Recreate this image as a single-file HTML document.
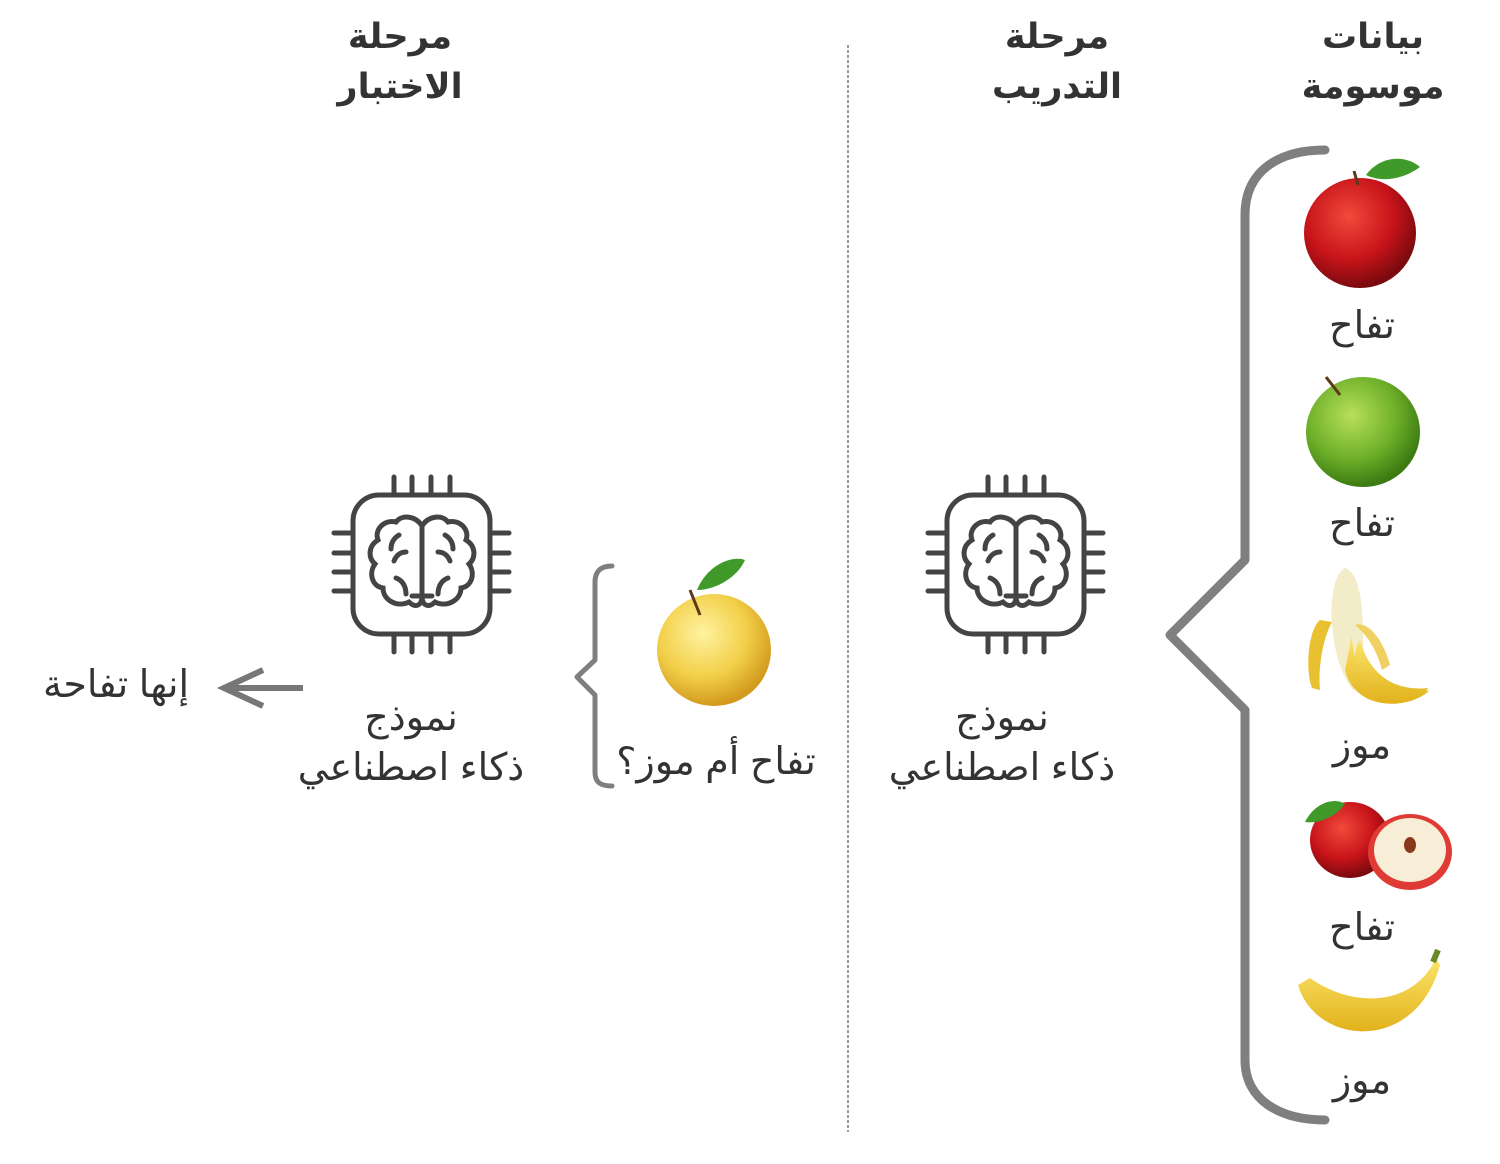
<!DOCTYPE html>
<html><head><meta charset="utf-8"><style>
html,body{margin:0;padding:0;background:#fff}
svg{display:block}
text{font-family:"Liberation Sans","Noto Sans CJK SC","DejaVu Sans",sans-serif;fill:#333;text-anchor:middle}
.h{font-size:35px;font-weight:bold}
.l{font-size:38px}
</style></head><body>
<svg width="1500" height="1164" viewBox="0 0 1500 1164">
<defs>
<radialGradient id="red" cx="40%" cy="35%" r="65%"><stop offset="0" stop-color="#f04a3a"/><stop offset=".6" stop-color="#c8141a"/><stop offset="1" stop-color="#7a0a0e"/></radialGradient>
<radialGradient id="grn" cx="40%" cy="35%" r="65%"><stop offset="0" stop-color="#b8e05a"/><stop offset=".6" stop-color="#6fb02a"/><stop offset="1" stop-color="#3c7a12"/></radialGradient>
<radialGradient id="yel" cx="40%" cy="35%" r="65%"><stop offset="0" stop-color="#fff2a0"/><stop offset=".6" stop-color="#f2cf48"/><stop offset="1" stop-color="#d39a1e"/></radialGradient>
<linearGradient id="ban" x1="0" y1="0" x2="0" y2="1"><stop offset="0" stop-color="#fbe46a"/><stop offset="1" stop-color="#e2b21c"/></linearGradient>
<g id="chip" fill="none" stroke="#444" stroke-width="5" stroke-linecap="round">
<rect x="947" y="495" width="137" height="139" rx="26"/>
<path d="M988 477v18M1006 477v18M1025 477v18M1044 477v18M988 634v18M1006 634v18M1025 634v18M1044 634v18M928 533h19M928 553h19M928 572h19M928 591h19M1084 533h19M1084 553h19M1084 572h19M1084 591h19"/>
<path d="M1016 526c-6-10-20-12-26-4c-12-3-22 8-18 18c-10 6-10 18-3 24c-6 8-4 22 8 24c0 12 14 20 26 14c6 6 12 4 13-4zM1016 526c6-10 20-12 26-4c12-3 22 8 18 18c10 6 10 18 3 24c6 8 4 22-8 24c0 12-14 20-26 14c-6 6-12 4-13-4zM1016 526v74M1006 596h20M993 535c-5 3-8 8-8 14M1000 552c-6 0-10 4-12 9M990 578c6 2 10 8 10 16M1039 535c5 3 8 8 8 14M1032 552c6 0 10 4 12 9M1042 578c-6 2-10 8-10 16"/>
</g>
</defs>
<line x1="848" y1="45" x2="848" y2="1132" stroke="#333" stroke-width="1" stroke-dasharray="3,2"/>
<text class="h" x="400" y="48">مرحلة</text><text class="h" x="400" y="98">الاختبار</text>
<text class="h" x="1057" y="48">مرحلة</text><text class="h" x="1057" y="98">التدريب</text>
<text class="h" x="1373" y="48">بيانات</text><text class="h" x="1373" y="98">موسومة</text>
<path d="M1325 150C1280 150 1245 170 1245 215V560L1170 635L1245 710V1060C1245 1100 1280 1120 1325 1120" fill="none" stroke="#7f7f7f" stroke-width="9" stroke-linecap="round" stroke-linejoin="round"/>
<path d="M612 566C600 566 595 572 595 582V660L577 677L595 695V772C595 782 600 786 612 786" fill="none" stroke="#7f7f7f" stroke-width="5" stroke-linecap="round" stroke-linejoin="round"/>
<use href="#chip"/>
<use href="#chip" transform="translate(-594,0)"/>
<text class="l" x="1002" y="730">نموذج</text><text class="l" x="1002" y="780">ذكاء اصطناعي</text>
<text class="l" x="411" y="730">نموذج</text><text class="l" x="411" y="780">ذكاء اصطناعي</text>
<text class="l" x="716" y="774">تفاح أم موز؟</text>
<text class="l" x="116" y="697">إنها تفاحة</text>
<path d="M303 688H226M263 670L224 688L263 706" fill="none" stroke="#777" stroke-width="6" stroke-linejoin="miter"/>
<!-- red apple -->
<ellipse cx="1360" cy="233" rx="56" ry="55" fill="url(#red)"/>
<path d="M1358 185l-4-14" stroke="#5a3a1a" stroke-width="3"/>
<path d="M1366 175c15-20 40-20 54-8c-16 12-38 16-54 8z" fill="#3f9a2a"/>
<text class="l" x="1362" y="338">تفاح</text>
<!-- green apple -->
<ellipse cx="1363" cy="432" rx="57" ry="55" fill="url(#grn)"/>
<path d="M1340 395l-14-18" stroke="#5a3a1a" stroke-width="3"/>
<text class="l" x="1362" y="536">تفاح</text>
<!-- peeled banana -->
<path d="M1320 620c-12 10-15 50-8 68l8 2c-2-20 2-50 12-68z" fill="#e8c030"/>
<path d="M1345 568c-20 10-18 90 8 122l12-8c-5-30 5-104-20-114z" fill="#f3ecc8"/>
<path d="M1360 640c8 30 30 52 68 48c-5 14-45 22-65 5c-10-10-12-40-3-53z" fill="url(#ban)"/>
<path d="M1352 635c0 50 40 70 78 55c-20 20-75 22-85-20z" fill="url(#ban)"/>
<path d="M1355 625c15-5 30 20 35 40l-8 5c-5-20-15-35-27-45z" fill="#efd060"/>
<text class="l" x="1362" y="758">موز</text>
<!-- apple halves -->
<ellipse cx="1350" cy="840" rx="40" ry="38" fill="url(#red)"/>
<path d="M1305 822c10-20 30-25 40-18c-10 14-28 20-40 18z" fill="#3f9a2a"/>
<ellipse cx="1410" cy="852" rx="42" ry="38" fill="#e03a35"/>
<ellipse cx="1410" cy="850" rx="36" ry="32" fill="#f8eed8"/>
<ellipse cx="1410" cy="845" rx="6" ry="8" fill="#8a3a1a"/>
<text class="l" x="1362" y="940">تفاح</text>
<!-- banana -->
<path d="M1298 985C1315 1045 1415 1055 1440 965L1436 958C1415 1005 1355 1010 1310 978Z" fill="url(#ban)"/>
<path d="M1433 962l5-12" stroke="#6a8a2a" stroke-width="6"/>
<text class="l" x="1362" y="1093">موز</text>
<!-- yellow apple -->
<ellipse cx="714" cy="650" rx="57" ry="56" fill="url(#yel)"/>
<path d="M700 615l-10-25" stroke="#5a3a1a" stroke-width="3"/>
<path d="M697 590c10-25 35-35 48-30c-8 18-30 30-48 30z" fill="#3f9a2a"/>
</svg>
</body></html>
